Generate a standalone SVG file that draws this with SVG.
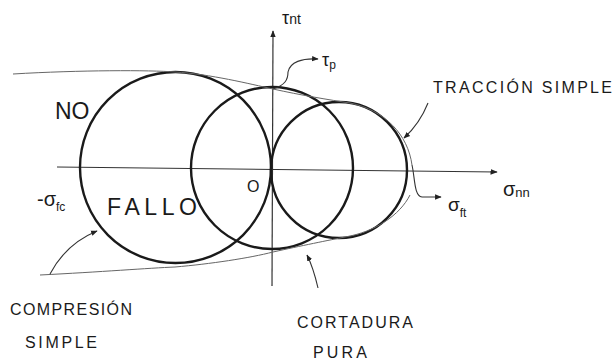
<svg xmlns="http://www.w3.org/2000/svg" width="614" height="363" viewBox="0 0 614 363">
<style>
.circ{fill:none;stroke:#1a1a1a;stroke-width:2.4}
.axis{fill:none;stroke:#333;stroke-width:1.2}
.env{fill:none;stroke:#666;stroke-width:1}
.lead{fill:none;stroke:#333;stroke-width:1.1}
text{font-family:"Liberation Sans","DejaVu Sans",sans-serif;fill:#1a1a1a}
.lbl{font-size:16px}
.big{font-size:23px}
.sub{font-size:12px}
</style>
<defs>
<marker id="arr" viewBox="0 0 10 10" refX="9" refY="5" markerWidth="6" markerHeight="6" orient="auto">
<path d="M0,1 L10,5 L0,9 Z" fill="#222"/>
</marker>
</defs>
<rect width="614" height="363" fill="#fff"/>
<g id="axes">
<path class="axis" d="M57,167 L497,172" marker-end="url(#arr)"/>
<path class="axis" d="M272,286 L273,31" marker-end="url(#arr)"/>
</g>
<g id="circle-compresion"><circle class="circ" cx="175.5" cy="167.5" r="95.5"/></g>
<g id="circle-cortadura"><circle class="circ" cx="272" cy="168" r="81"/></g>
<g id="circle-traccion"><circle class="circ" cx="339" cy="170" r="68"/></g>
<g id="envelope">
<path class="env" d="M13,74 C80,70 150,70 175,72 C210,74 250,84 273,89 C300,95 330,100 350,103 C385,110 408,135 412,165"/>
<path class="env" d="M40,275 C100,272 150,268 175,267 C210,264 250,258 273,252 C300,246 330,240 345,237 C375,232 400,215 410,195"/>
</g>
<g id="connectors">
<path class="lead" d="M273,89 C285,85 288,80 288,72 C290,62 302,58 318,59" marker-end="url(#arr)"/>
<path class="lead" d="M428,103 C422,118 415,128 404,138" marker-end="url(#arr)"/>
<path class="lead" d="M412,165 C415,178 414,196 422,197 L441,197" marker-end="url(#arr)"/>
<path class="lead" d="M50,274 C60,255 75,240 97,231" marker-end="url(#arr)"/>
<path class="lead" d="M318,288 C315,275 312,265 307,255" marker-end="url(#arr)"/>
</g>
<g id="labels">
<text x="282" y="24" font-size="18">τ<tspan font-size="14">nt</tspan></text>
<text x="322" y="66" font-size="18">τ<tspan class="sub" dy="3">p</tspan></text>
<text class="lbl" x="433" y="93" textLength="179">TRACCIÓN SIMPLE</text>
<text class="big" x="55" y="119">NO</text>
<text x="37" y="206" font-size="20">-σ<tspan class="sub" dy="5">fc</tspan></text>
<text class="big" x="107" y="215" textLength="90">FALLO</text>
<text x="247" y="192" font-size="16">O</text>
<text x="448" y="211" font-size="19">σ<tspan class="sub" dy="6">ft</tspan></text>
<text x="503" y="196" font-size="20">σ<tspan font-size="13" dy="1">nn</tspan></text>
<text class="lbl" x="10" y="315" textLength="122">COMPRESIÓN</text>
<text class="lbl" x="25" y="348" textLength="72">SIMPLE</text>
<text class="lbl" x="297" y="328" textLength="116">CORTADURA</text>
<text class="lbl" x="313" y="358" textLength="54">PURA</text>
</g>
</svg>
